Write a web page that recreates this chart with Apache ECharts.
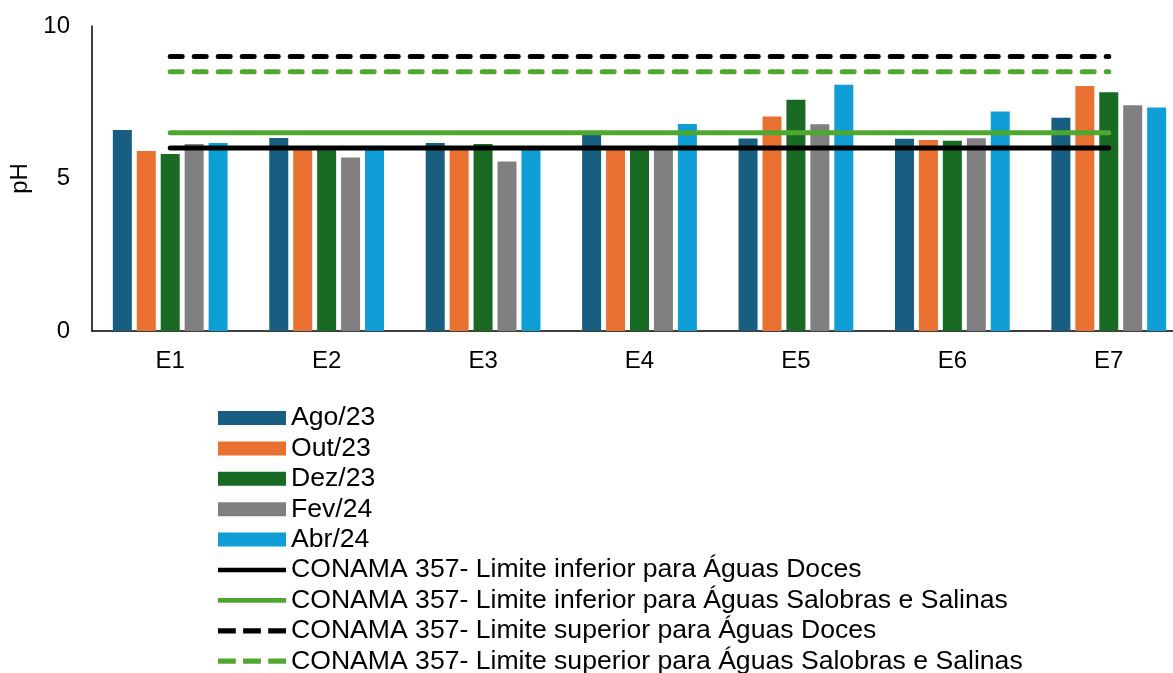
<!DOCTYPE html>
<html>
<head>
<meta charset="utf-8">
<script src="https://cdn.jsdelivr.net/npm/echarts@6/dist/echarts.min.js"></script>
<style>
  html, body { margin: 0; padding: 0; background: #fff; }
  #chart { width: 1173px; height: 673px; }
</style>
</head>
<body>
<div id="chart"></div>
<script>
// pontos de coleta
const stations = ['E1', 'E2', 'E3', 'E4', 'E5', 'E6', 'E7'];

// pH por campanha
const ago23 = [6.59, 6.33, 6.16, 6.43, 6.31, 6.30, 6.99];
const out23 = [5.90, 6.00, 6.00, 6.00, 7.03, 6.26, 8.03];
const dez23 = [5.80, 6.00, 6.13, 6.00, 7.58, 6.24, 7.83];
const fev24 = [6.13, 5.69, 5.56, 6.00, 6.78, 6.32, 7.40];
const abr24 = [6.16, 6.00, 6.00, 6.79, 8.07, 7.20, 7.33];

// limites CONAMA 357
const infDoces = [6, 6, 6, 6, 6, 6, 6];
const infSalobras = [6.5, 6.5, 6.5, 6.5, 6.5, 6.5, 6.5];
const supDoces = [9, 9, 9, 9, 9, 9, 9];
const supSalobras = [8.5, 8.5, 8.5, 8.5, 8.5, 8.5, 8.5];

const yTicks = [0, 5, 10];

const font = 'Liberation Sans, Arial, sans-serif';

// icones da legenda (linha cheia / tracejada)
const solidIcon = 'path://M0,0 H72 V5 H0 Z';
const dashIcon = 'path://M0,0 H17 V5 H0 Z M24,0 H41 V5 H24 Z M48,0 H65 V5 H48 Z';

function bar(name, data, color) {
  return {
    name: name,
    type: 'bar',
    data: data,
    barWidth: 19,
    barGap: '26%',
    itemStyle: { color: color }
  };
}

function limit(name, data, color, dashed) {
  return {
    name: name,
    type: 'line',
    data: data,
    symbol: 'none',
    z: 5,
    lineStyle: {
      color: color,
      width: 5,
      cap: 'round',
      type: dashed ? [12, 12] : 'solid'
    },
    itemStyle: { color: color }
  };
}

const series = [
  bar('Ago/23', ago23, '#175E80'),
  bar('Out/23', out23, '#E97132'),
  bar('Dez/23', dez23, '#196B24'),
  bar('Fev/24', fev24, '#808080'),
  bar('Abr/24', abr24, '#0F9ED5'),
  limit('CONAMA 357- Limite inferior para Águas Doces', infDoces, '#000000', false),
  limit('CONAMA 357- Limite inferior para Águas Salobras e Salinas', infSalobras, '#4EA72E', false),
  limit('CONAMA 357- Limite superior para Águas Doces', supDoces, '#000000', true),
  limit('CONAMA 357- Limite superior para Águas Salobras e Salinas', supSalobras, '#4EA72E', true)
];

const legendData = series.map(function (s) {
  let icon = 'rect';
  if (s.type === 'line') icon = Array.isArray(s.lineStyle.type) ? dashIcon : solidIcon;
  return { name: s.name, icon: icon };
});

let chart = echarts.init(document.getElementById('chart'));
chart.setOption({
  animation: false,
  grid: { left: 92, width: 1095, top: 26, bottom: 342, outerBoundsMode: 'none' },
  xAxis: {
    type: 'category',
    data: stations,
    axisLine: { lineStyle: { color: '#000', width: 1.5 } },
    axisTick: { show: false },
    axisLabel: { color: '#000', fontSize: 24, fontFamily: font, margin: 18 }
  },
  yAxis: {
    type: 'value',
    min: yTicks[0],
    max: yTicks[yTicks.length - 1],
    interval: 5,
    name: 'pH',
    nameLocation: 'middle',
    nameGap: 53,
    nameRotate: 90,
    nameTextStyle: { color: '#000', fontSize: 24, fontFamily: font },
    axisLine: { show: true, lineStyle: { color: '#000', width: 1.5 } },
    axisTick: { show: false },
    splitLine: { show: false },
    axisLabel: { color: '#000', fontSize: 24, fontFamily: font, margin: 22 }
  },
  legend: {
    orient: 'vertical',
    left: 213,
    top: 398,
    height: 300,
    itemWidth: 68,
    itemHeight: 14,
    itemGap: 0.4,
    data: legendData,
    textStyle: { color: '#000', fontSize: 26.6, fontFamily: font, lineHeight: 30 }
  },
  series: series
});
</script>
</body>
</html>
